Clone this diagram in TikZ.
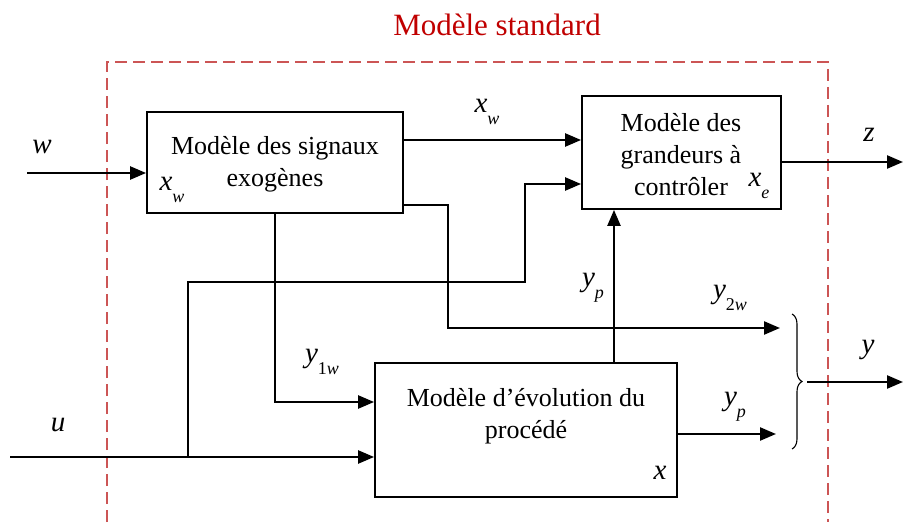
\documentclass[tikz,border=0pt]{standalone}
\usepackage{fontspec}
\setmainfont{Liberation Serif}
\usetikzlibrary{arrows.meta,decorations.pathreplacing}
\definecolor{titlered}{RGB}{192,0,0}
\definecolor{dashred}{RGB}{204,85,85}
\newcommand\sigsub[2]{#1\raisebox{-0.42em}{\fontsize{18}{18}\selectfont #2}}
\begin{document}
\begin{tikzpicture}[x=1pt,y=-1pt,
  box/.style={draw,line width=1.8pt,inner sep=0pt},
  txt/.style={font=\fontsize{26}{32}\selectfont,align=center,inner sep=0pt},
  lab/.style={font=\fontsize{29}{30}\selectfont\itshape,inner sep=0pt},
  sig/.style={line width=2.4pt,-{Triangle[length=16pt,width=13pt]}},
  frame/.style={draw=dashred,line width=1.6pt,dash pattern=on 12pt off 6pt}]
\useasboundingbox (0,0) rectangle (903,527);
% frame and title
\draw[frame] (107,522) -- (107,62) -- (828,62) -- (828,522);
\node[font=\fontsize{31}{34}\selectfont,text=titlered,inner sep=0pt] (title) at (497,25) {Modèle standard};
% blocks
\node[box,minimum width=256pt,minimum height=101pt] (b1) at (275,162.5) {};
\node[box,minimum width=199pt,minimum height=113pt] (b2) at (681.5,152.5) {};
\node[box,minimum width=302pt,minimum height=134pt] (b3) at (526,430) {};
\node[txt] (t1) at (275,164) {Modèle des signaux\\exogènes};
\node[txt] (t2) at (681,155) {Modèle des\\grandeurs à\\contrôler};
\node[txt] (t3) at (526,416) {Modèle d’évolution du\\procédé};
% coordinates
\coordinate (ws) at (27,173);
\coordinate (c140) at (0,140);
\coordinate (uj) at (188,457);
\coordinate (k1) at (525,282);
\coordinate (in2) at (0,184);
\coordinate (us) at (10,457);
\coordinate (y1) at (0,402);
\coordinate (o1) at (0,205);
\coordinate (k2) at (448,328);
\coordinate (e2) at (780,328);
\coordinate (yp) at (614,0);
\coordinate (o3) at (0,434);
\coordinate (e3) at (776,434);
\coordinate (zo) at (0,162);
\coordinate (ze) at (903,162);
\coordinate (bt) at (792,314);
\coordinate (bb) at (792,449);
\coordinate (ys) at (807,382);
\coordinate (ye) at (903,382);
% connectors
\draw[sig] (ws) -- (b1.west |- ws);
\draw[sig] (b1.east |- c140) -- (b2.west |- c140);
\draw[sig] (uj) -- (uj |- k1) -- (k1) -- (k1 |- in2) -- (b2.west |- in2);
\draw[sig] (us) -- (b3.west |- us);
\draw[sig] (b1.south) -- (b1.south |- y1) -- (b3.west |- y1);
\draw[sig] (b1.east |- o1) -- (k2 |- o1) -- (k2) -- (e2);
\draw[sig] (b3.north -| yp) -- (b2.south -| yp);
\draw[sig] (b3.east |- o3) -- (e3);
\draw[sig] (b2.east |- zo) -- (ze);
\draw[decorate,decoration={brace,amplitude=10pt},line width=1.1pt] (bt) -- (bb);
\draw[sig] (ys) -- (ye);
% labels
\node[lab] (lw) at (42,147) {w};
\node[lab] (lxw1) at (172,190) {\sigsub{x}{w}};
\node[lab] (lxw2) at (487,112) {\sigsub{x}{w}};
\node[lab] (ly1w) at (322,362) {\sigsub{y}{\upshape 1\itshape w}};
\node[lab] (lu) at (58,425) {u};
\node[lab] (lyp1) at (593,288) {\sigsub{y}{p}};
\node[lab] (ly2w) at (730,298) {\sigsub{y}{\upshape 2\itshape w}};
\node[lab] (lyp2) at (735,407) {\sigsub{y}{p}};
\node[lab] (lz) at (869,135) {z};
\node[lab] (ly) at (868,350) {y};
\node[lab] (lx) at (660,473) {x};
\node[lab] (lxe) at (759,186) {\sigsub{x}{e}};
\end{tikzpicture}
\end{document}
